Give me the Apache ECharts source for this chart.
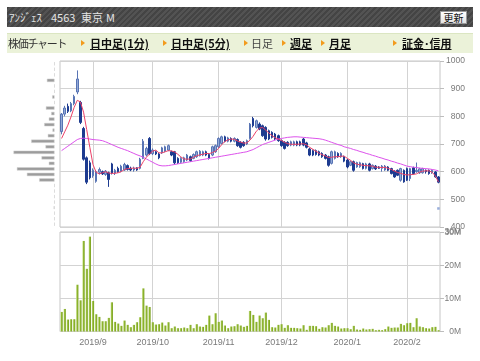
<!DOCTYPE html>
<html><head><meta charset="utf-8">
<script src="https://cdn.jsdelivr.net/npm/echarts@6/dist/echarts.min.js"></script>
<style>
body{margin:0;background:#fff;font-family:"Noto Sans CJK JP",sans-serif;}
#chart{position:absolute;left:0;top:0;width:480px;height:361px;}
.hdr{position:absolute;left:7px;top:7px;width:466px;height:20px;background:repeating-linear-gradient(135deg,#444 0,#444 2px,#535353 2px,#535353 4px);}
.ttl{position:absolute;left:2px;top:0;line-height:20px;font-size:11px;color:#e4e4e4;white-space:nowrap;}
.ttl span{position:absolute;top:0;}
.btn{position:absolute;left:433px;top:4px;width:25px;height:11px;background:linear-gradient(#fff,#e4e4e4);border:1px solid #999;font-size:10px;line-height:11px;text-align:center;color:#111;}
.nav{position:absolute;left:7px;top:33px;width:466px;height:19px;background:#ebf2d9;border-top:1px solid #dbe6c2;}
.nav span{position:absolute;top:0;line-height:19px;font-size:11px;white-space:nowrap;color:#111;}
.nav span.lk{font-weight:bold;text-decoration:underline;}
.tri{position:absolute;top:6px;width:0;height:0;border-left:4px solid #f29b1d;border-top:3px solid transparent;border-bottom:3px solid transparent;}
.vlab{position:absolute;font-family:"Liberation Sans",Arial,sans-serif;font-size:8.5px;color:#7a7a7a;line-height:10px;text-align:right;width:30px;}
</style></head>
<body>
<div id="chart"></div>
<div class="hdr"><div class="ttl"><span style="left:0">ｱﾝｼﾞｪｽ</span><span style="left:42px">4563</span><span style="left:72px">東京</span><span style="left:97px">M</span></div><div class="btn">更新</div></div>
<div class="nav">
<span style="left:1px;color:#333;letter-spacing:-1.3px">株価チャート</span>
<div class="tri" style="left:74px"></div><span class="lk" style="left:83px">日中足(1分)</span>
<div class="tri" style="left:156px"></div><span class="lk" style="left:164px">日中足(5分)</span>
<div class="tri" style="left:237px"></div><span style="left:244px;color:#444">日足</span>
<div class="tri" style="left:275px"></div><span class="lk" style="left:283px">週足</span>
<div class="tri" style="left:314px"></div><span class="lk" style="left:322px">月足</span>
<div class="tri" style="left:386px"></div><span class="lk" style="left:395px">証金･信用</span>
</div>
<div id="vtop" class="vlab"></div>
<script>
// trading days per month
const monthDays = [
  ['2019/8', [19,20,21,22,23,26,27,28,29,30]],
  ['2019/9', [2,3,4,5,6,9,10,11,12,13,17,18,19,20,24,25,26,27,30]],
  ['2019/10', [1,2,3,4,7,8,9,10,11,15,16,17,18,21,23,24,25,28,29,30,31]],
  ['2019/11', [1,5,6,7,8,11,12,13,14,15,18,19,20,21,22,25,26,27,28,29]],
  ['2019/12', [2,3,4,5,6,9,10,11,12,13,16,17,18,19,20,23,24,25,26,27,30]],
  ['2020/1', [6,7,8,9,10,14,15,16,17,20,21,22,23,24,27,28,29,30,31]],
  ['2020/2', [3,4,5,6,7,10,12,13,14,17,18]]
];
const open = [745,808,836,820,846,888,850,756,650,632, 585,565,598,600,590,596,628,595,612,602,
 606,622,612,606,614,612,648,660,720,665, 672,664,668,674,678,672,672,648,634,636,
 642,654,648,654,658,660,672,662,660,672, 690,702,726,710,720,710,716,706,706,700,
 720,792,760,772,766,760,748,742,736,730, 712,706,706,696,696,708,708,718,704,682,
 676,676,672,666,660,654,630,648,666,654, 654,642,623,636,617,618,629,612,628,611,
 620,617,612,606,617,611,602,605,569,605, 611,575,614,600,596,596,605,605,596,599,581];
const high = [812,838,846,852,878,966,856,762,655,640, 612,606,615,604,606,600,632,610,618,625,
 632,626,618,618,616,650,718,690,725,684, 676,667,690,694,698,676,675,652,652,654,
 664,658,666,676,678,676,676,666,694,698, 724,730,730,726,724,724,720,710,710,716,
 776,798,788,778,770,764,752,746,740,734, 716,710,710,712,712,712,712,722,708,686,
 680,680,676,670,664,658,676,676,670,670, 658,646,640,640,636,636,632,632,632,626,
 624,620,624,624,620,614,605,608,614,608, 615,614,618,633,614,614,608,608,608,602,584];
const low = [735,800,812,815,840,880,772,640,555,572, 578,560,590,588,585,545,590,588,596,598,
 603,604,602,600,603,608,645,655,660,660, 660,645,664,670,674,656,626,628,630,632,
 638,636,645,650,655,656,656,644,656,668, 686,698,706,706,706,706,690,684,690,696,
 716,760,756,750,726,712,714,720,714,708, 690,680,690,692,692,692,692,692,684,656,
 656,658,656,650,644,618,626,644,650,650, 634,612,620,600,614,614,608,608,601,608,
 606,610,600,603,602,590,578,584,564,560, 566,566,590,596,592,593,593,589,592,578,558];
const close = [808,830,818,846,872,935,778,645,562,578, 605,600,608,592,602,572,595,605,600,620,
 626,608,606,612,606,645,710,684,665,678, 664,650,686,690,694,660,632,632,648,650,
 660,640,662,672,674,672,660,648,690,694, 720,726,710,722,710,720,694,688,694,712,
 772,766,784,754,730,718,718,724,718,712, 694,684,694,708,708,696,696,696,688,660,
 660,662,660,654,648,623,672,672,654,666, 638,617,636,605,633,632,611,628,605,623,
 610,612,620,620,605,593,581,587,611,563, 569,611,593,605,610,611,600,593,605,581,562];
// volume, million shares
const volume = [5.9,6.8,3.6,3.7,3.7,14.1,9.4,27.3,18.9,28.6, 9.2,5.2,4.4,3.1,3.1,4.1,8.8,2.9,2.4,1.7,
 3.3,2.0,1.3,2.0,2.8,4.3,13.0,7.8,7.4,2.8, 2.1,2.2,2.7,1.8,2.8,1.0,1.5,1.0,1.0,1.2,
 1.0,2.0,1.0,2.2,1.5,1.4,2.0,4.8,2.2,5.5, 2.9,3.3,1.8,1.0,1.5,1.6,2.2,1.8,1.4,1.7,
 6.2,5.0,2.9,4.8,4.0,5.7,3.5,1.3,1.2,2.0, 2.2,1.1,1.9,1.1,1.1,1.0,0.9,1.9,0.5,1.7,
 1.7,1.6,0.8,1.3,1.2,1.9,2.6,1.7,1.5,0.9, 1.0,1.0,0.7,1.7,0.6,0.5,0.9,0.6,0.7,0.8,
 0.4,0.5,0.4,0.7,1.5,1.1,1.2,1.2,2.3,1.9, 2.5,2.6,1.3,4.0,1.5,1.3,1.0,0.9,1.3,1.4,0.4];
const ma5 = [720,744,768,798,832,858,852,815,752,688, 626,598,592,596,600,595,594,594,596,600,
 608,611,612,613,612,616,636,652,664,674, 678,668,668,672,676,675,671,663,653,646,
 645,646,652,657,661,663,666,665,669,674, 684,698,709,715,718,717,711,707,703,704,
 714,728,746,757,760,750,740,730,723,718, 713,706,701,699,699,699,700,701,697,688,
 681,674,667,661,657,651,652,654,654,656, 656,648,641,632,627,625,623,622,621,620,
 616,616,615,616,612,608,602,597,594,590, 588,589,590,592,598,602,603,603,598,585,563];
const ma25 = [676,684,692,700,708,716,720,721,720,718, 716,715,714,712,708,703,698,693,688,684,
 680,676,671,666,661,657,652,646,640,634, 628,623,621,621,622,624,626,628,630,632,
 634,636,638,640,642,644,646,648,650,652, 654,656,658,660,662,664,666,668,670,672,
 676,680,686,692,698,702,706,710,714,718, 720,722,724,725,726,726,725,724,723,722,
 721,720,719,717,714,710,706,702,698,695, 690,687,684,680,677,673,670,666,663,659,
 656,652,649,645,642,638,635,631,628,624, 620,618,616,615,613,612,611,610,608,606,603];
// volume by price (bucket centre, relative volume)
const vpPrice = [470,570,590,610,630,650,670,690,710,730,750,770,790,810,830,870,930];
const vpVolume = [0.8,15.3,27.6,37.6,5.7,13,41,9,23.3,6.7,2,10.3,5.7,3.3,8.6,2.3,7.6];
const lastMark = 467;
const priceTicks = {min:400, max:1000, step:100};
const volTicks = {min:0, max:30, step:10};

const dates = [];
monthDays.forEach(([ym, ds]) => ds.forEach(d => dates.push(ym + '/' + d)));
const ymOf = s => s.split('/').slice(0,2).join('/');
const isMonthStart = (i) => i > 0 && ymOf(dates[i]) !== ymOf(dates[i-1]);

const vpCats = [];
for (let p = priceTicks.min; p < priceTicks.max; p += 20) vpCats.push(p);
const vpData = vpCats.map(c => { const k = vpPrice.indexOf(c + 10); return k >= 0 ? vpVolume[k] : 0; });

const gridLineColor = '#d3d3d3';
const lblFont = 'Liberation Sans, Arial, sans-serif';
const lblColor = '#7a7a7a';
const volFmt = v => v + 'M';
const volGrid = {left:60, right:40, top:232, height:99.5};
const chart = echarts.init(document.getElementById('chart'), null, {renderer:'canvas'});
chart.setOption({
  animation: false,
  backgroundColor: '#fff',
  grid: [
    {left:60, right:40, top:61, height:166, show:true, borderColor:'#c6c6c6', borderWidth:1, outerBoundsMode:'none'},
    Object.assign({show:true, borderColor:'#c6c6c6', borderWidth:1, outerBoundsMode:'none'}, volGrid),
    {left:9.5, width:45, top:61, height:166, outerBoundsMode:'none'}
  ],
  xAxis: [
    {gridIndex:0, type:'category', data:dates, boundaryGap:true,
     axisLine:{show:false}, axisTick:{show:false}, axisLabel:{show:false},
     splitLine:{show:true, interval:isMonthStart, alignWithLabel:true, lineStyle:{color:gridLineColor, width:1}}},
    {gridIndex:1, type:'category', data:dates, boundaryGap:true,
     axisLine:{show:false}, axisTick:{show:false},
     axisLabel:{show:true, interval:isMonthStart, margin:7, fontSize:9, color:lblColor, fontFamily:lblFont,
       formatter: v => ymOf(v)},
     splitLine:{show:true, interval:isMonthStart, alignWithLabel:true, lineStyle:{color:gridLineColor, width:1}}},
    {gridIndex:2, type:'value', inverse:true, min:0, max:45, show:false}
  ],
  yAxis: [
    {gridIndex:0, type:'value', position:'right', min:priceTicks.min, max:priceTicks.max, interval:priceTicks.step,
     axisLine:{show:false}, axisTick:{show:true, length:4, lineStyle:{color:'#bdbdbd'}},
     axisLabel:{align:'right', margin:25, fontSize:8.5, color:lblColor, fontFamily:lblFont,
       showMinLabel:true, showMaxLabel:true, hideOverlap:false, formatter: v => String(v)},
     splitLine:{show:true, lineStyle:{color:gridLineColor, width:1}}},
    {gridIndex:1, type:'value', position:'right', min:volTicks.min, max:volTicks.max, interval:volTicks.step,
     axisLine:{show:false}, axisTick:{show:true, length:4, lineStyle:{color:'#bdbdbd'}},
     axisLabel:{align:'right', margin:21, fontSize:8.5, color:lblColor, fontFamily:lblFont,
       showMinLabel:true, showMaxLabel:true, hideOverlap:false, formatter: v => volFmt(v)},
     splitLine:{show:true, lineStyle:{color:gridLineColor, width:1}}},
    {gridIndex:2, type:'category', data:vpCats, show:false}
  ],
  series: [
    {type:'candlestick', xAxisIndex:0, yAxisIndex:0, barWidth:2, z:3,
     data: dates.map((_, i) => [open[i], close[i], low[i], high[i]]),
     itemStyle:{color:'#93a9d6', color0:'#1d3b90', borderColor:'#5874b4', borderColor0:'#1d3b90', borderWidth:1}},
    {type:'line', xAxisIndex:0, yAxisIndex:0, data:ma25, symbol:'none', z:4,
     lineStyle:{color:'#dd52ec', width:1}},
    {type:'line', xAxisIndex:0, yAxisIndex:0, data:ma5, symbol:'none', z:5,
     lineStyle:{color:'#ec4168', width:1}},
    {type:'scatter', xAxisIndex:0, yAxisIndex:0, symbol:'rect', symbolSize:2.5, z:5,
     data:[[dates.length - 1, lastMark]], itemStyle:{color:'#7f9ad2'}},
    {type:'bar', xAxisIndex:1, yAxisIndex:1, data:volume, barWidth:2.3,
     itemStyle:{color: new echarts.graphic.LinearGradient(0,0,1,0,[
       {offset:0, color:'#cfe49a'}, {offset:0.45, color:'#90b830'}, {offset:1, color:'#7a9f20'}])}},
    {type:'bar', xAxisIndex:2, yAxisIndex:2, data:vpData, barWidth:3.3,
     itemStyle:{color:'#9c9c9c', borderColor:'#d0d0d0', borderWidth:0.5}}
  ]
});
// top volume tick label as page text (ECharts suppresses it next to the price axis' "400")
let topY = volGrid.top;
try { const p = chart.convertToPixel({yAxisIndex:1}, volTicks.max); if (isFinite(p)) topY = p; } catch (e) {}
const vtop = document.getElementById('vtop');
vtop.textContent = volFmt(volTicks.max);
vtop.style.left = (461 - 30) + 'px';
vtop.style.top = (topY - 5) + 'px';
</script>
</body></html>
